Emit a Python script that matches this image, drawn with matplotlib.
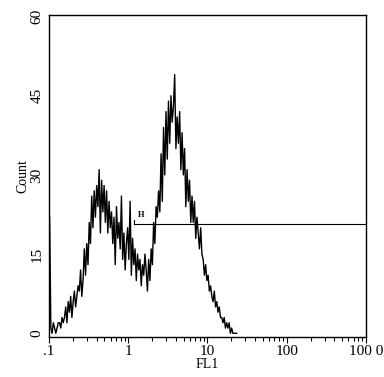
import numpy as np
import matplotlib
matplotlib.use("Agg")
import matplotlib.pyplot as plt

# FL1 histogram, 256 channels over 4 decades (0.1 - 1000), only the first ones are non-zero
counts = [
    22, 1, 0, 2, 1, 0, 1, 2, 2, 1, 3, 2, 3, 5, 2, 6,
    4, 7, 3, 6, 8, 5, 7, 9, 8, 12, 7, 10, 16, 11, 17, 13,
    21, 17, 26, 20, 27, 22, 28, 24, 31, 19, 29, 23, 28, 21, 27, 19,
    25, 20, 23, 17, 22, 13, 24, 18, 21, 16, 26, 14, 19, 12, 17, 20,
    14, 25, 11, 18, 13, 16, 10, 15, 12, 14, 9, 13, 11, 15, 12, 8,
    14, 10, 16, 13, 21, 17, 24, 22, 27, 23, 34, 25, 39, 30, 42, 33,
    44, 36, 45, 40, 43, 49, 35, 41, 36, 42, 31, 38, 30, 35, 24, 31,
    25, 29, 21, 26, 21, 25, 18, 22, 19, 16, 20, 15, 14, 11, 13, 10,
    11, 8, 9, 7, 6, 8, 5, 6, 4, 5, 3, 3, 2, 3, 1, 2,
    1, 2, 0, 1, 0, 0, 0, 0,
]
n_channels = 256
x_range = (0.1, 1000)

# marker "H" region
marker_start = 1.18
marker_level = 20.7

xticks = [0.1, 1, 10, 100, 1000]
xticklabels = [".1", "1", "10", "100", "100 0"]
yticks = [0, 15, 30, 45, 60]

plt.rcParams["font.family"] = ["Liberation Serif", "DejaVu Serif"]

fig = plt.figure(figsize=(3.84, 3.77), dpi=100)
ax = fig.add_axes([0.1276, 0.1061, 0.8255, 0.8541])

edges = np.logspace(np.log10(x_range[0]), np.log10(x_range[1]), n_channels + 1)
centers = np.sqrt(edges[:-1] * edges[1:])[:len(counts)]
ax.plot(centers, counts, color="black", lw=1.0)

ax.plot([marker_start, x_range[1]], [marker_level, marker_level], color="black", lw=0.8)
ax.plot([marker_start, marker_start], [marker_level, marker_level + 0.8], color="black", lw=0.8)
ax.text(marker_start * 1.12, marker_level + 0.9, "H", fontsize=6, fontweight="bold",
        ha="left", va="bottom")

ax.set_xscale("log")
ax.set_xlim(*x_range)
ax.set_ylim(-0.7, 60.3)
ax.set_xticks(xticks)
ax.set_xticklabels(xticklabels, fontsize=11)
ax.set_yticks(yticks)
ax.set_yticklabels([str(v) for v in yticks], fontsize=11, rotation=90, va="center")
ax.tick_params(axis="y", length=0, pad=4)
ax.tick_params(axis="x", which="major", length=4, width=0.8, pad=2)
ax.tick_params(axis="x", which="minor", length=3, width=0.8)
ax.set_xlabel("FL1", fontsize=10, labelpad=0)
ax.set_ylabel("Count", fontsize=10, labelpad=1)
for s in ax.spines.values():
    s.set_linewidth(1.0)

fig.savefig("out.png", dpi=100)
